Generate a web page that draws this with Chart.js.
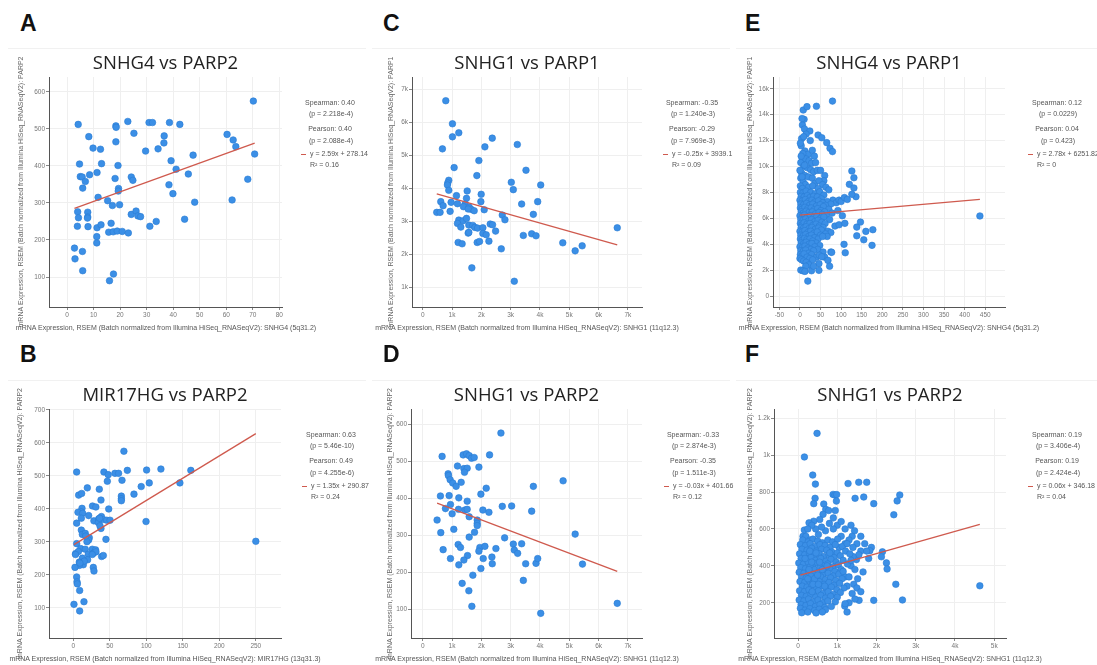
<!DOCTYPE html>
<html><head><meta charset="utf-8">
<script src="https://cdn.jsdelivr.net/npm/chart.js@4.4.1/dist/chart.umd.min.js"></script>
<style>
html,body{margin:0;padding:0;background:#fff;width:1097px;height:665px;overflow:hidden;position:relative;font-family:"Liberation Sans",Arial,sans-serif;}
.abs{position:absolute;white-space:nowrap;}
.letter{font-weight:bold;font-size:23px;line-height:23px;color:#111;}
.stat{font-size:7px;line-height:8px;height:8px;color:#555;}
.ctr{text-align:center;}
.dash{position:absolute;height:1px;width:5px;background:#cf5a4e;}
.card{position:absolute;height:0;border-top:1px solid #f1f1f1;}
canvas{position:absolute;}
</style></head><body>
<script>
// ---------- DATA ----------
const titles = ['SNHG4 vs PARP2','MIR17HG vs PARP2','SNHG1 vs PARP1','SNHG1 vs PARP2','SNHG4 vs PARP1','SNHG1 vs PARP2'];
const xGenes = ['SNHG4 (5q31.2)','MIR17HG (13q31.3)','SNHG1 (11q12.3)','SNHG1 (11q12.3)','SNHG4 (5q31.2)','SNHG1 (11q12.3)'];
const yGenes = ['PARP2','PARP2','PARP1','PARP2','PARP1','PARP2'];
const axisPrefix = 'mRNA Expression, RSEM (Batch normalized from Illumina HiSeq_RNASeqV2): ';

const statsA = ['Spearman: 0.40','(p = 2.218e-4)','Pearson: 0.40','(p = 2.088e-4)','y = 2.59x + 278.14','R² = 0.16'];
const statsB = ['Spearman: 0.63','(p = 5.46e-10)','Pearson: 0.49','(p = 4.255e-6)','y = 1.35x + 290.87','R² = 0.24'];
const statsC = ['Spearman: -0.35','(p = 1.240e-3)','Pearson: -0.29','(p = 7.969e-3)','y = -0.25x + 3939.1','R² = 0.09'];
const statsD = ['Spearman: -0.33','(p = 2.874e-3)','Pearson: -0.35','(p = 1.511e-3)','y = -0.03x + 401.66','R² = 0.12'];
const statsE = ['Spearman: 0.12','(p = 0.0229)','Pearson: 0.04','(p = 0.423)','y = 2.78x + 6251.82','R² = 0'];
const statsF = ['Spearman: 0.19','(p = 3.406e-4)','Pearson: 0.19','(p = 2.424e-4)','y = 0.06x + 346.18','R² = 0.04'];

// tick values shown on each axis
const xTicksA = [0,10,20,30,40,50,60,70,80];
const yTicksA = [100,200,300,400,500,600];
const xTicksB = [0,50,100,150,200,250];
const yTicksB = [100,200,300,400,500,600,700];
const xTicksC = [0,1000,2000,3000,4000,5000,6000,7000];
const yTicksC = [1000,2000,3000,4000,5000,6000,7000];
const xTicksD = [0,1000,2000,3000,4000,5000,6000,7000];
const yTicksD = [100,200,300,400,500,600];
const xTicksE = [-50,0,50,100,150,200,250,300,350,400,450];
const yTicksE = [0,2000,4000,6000,8000,10000,12000,14000,16000];
const xTicksF = [0,1000,2000,3000,4000,5000];
const yTicksF = [200,400,600,800,1000,1200];

const ptsA = [[70.2,575],[4.2,512],[22.9,520],[18.4,508],[18.5,504],[30.9,517],[32.2,517],[38.6,517],[42.5,512],[8.2,479],[25.2,488],[18.4,465],[9.8,448],[12.6,445],[29.6,440],[34.3,446],[36.6,481],[36.5,462],[60.3,485],[62.6,470],[63.6,452],[70.7,432],[47.5,429],[4.7,405],[13,406],[5,371],[5.7,370],[6.9,358],[8.5,376],[11.3,382],[5.9,340],[19.2,401],[18.1,366],[24.2,370],[24.8,361],[19.4,339],[19.3,332],[19.8,295],[17.1,293],[15.3,306],[11.7,315],[39.2,414],[41.1,391],[45.7,378],[38.4,349],[39.9,325],[48.1,302],[62.2,308],[68.1,364],[4.0,276],[4.3,260],[7.8,275],[7.8,262],[7.7,259],[3.9,237],[7.9,236],[11.3,233],[12.8,241],[16.6,245],[24.2,269],[26.0,278],[26.7,265],[27.7,263],[15.7,221],[17.4,222],[18.9,224],[20.8,223],[23.1,219],[31.2,237],[33.6,250],[44.3,256],[11.2,209],[11.2,192],[2.8,178],[5.8,169],[3.0,149],[5.9,117],[17.5,108],[16.0,90]];
const ptsB = [[4.6,512],[41.9,512],[47.8,504],[57,508],[74,517],[100.4,518],[120,521],[161,517],[69.3,575],[46.6,484],[66.7,487],[104,479],[146,479],[93,468],[19.2,464],[35.6,460],[7.3,442],[11.4,447],[83.1,445],[37.9,427],[65.8,439],[65.8,431],[65.8,425],[11.9,402],[10.5,392],[26.3,409],[30.9,406],[28.2,364],[48.5,400],[38.5,377],[34.8,370],[40.7,368],[45.7,366],[50.3,366],[34.2,359],[37.9,341],[36.5,349],[6.4,390],[4.6,357],[12.8,387],[11,372],[21,380],[99.6,362],[11,336],[12.4,323],[16.4,326],[21.9,313],[4.6,295],[21,306],[44.7,308],[18.7,301],[10.1,280],[3.2,265],[16.4,278],[26,278],[30.5,276],[27.4,266],[20.5,263],[12.4,251],[8.2,239],[13.7,231],[8.2,229],[2.3,223],[27.4,223],[28.3,212],[19.6,246],[38.8,256],[41.1,259],[4.6,194],[5.1,179],[5.5,173],[8.7,153],[14.6,119],[0.9,111],[8.7,91],[250,302],[15,242],[9,236],[31,270],[26,262],[17,318],[36,372],[62,508],[7,271],[3,262]];
const ptsC = [[787,6645],[1015,5946],[1015,5551],[1231,5673],[673,5186],[2121,5247],[2372,5511],[3227,5318],[1072,4619],[1916,4832],[1847,4376],[3523,4538],[3022,4173],[3090,3950],[4025,4092],[889,4234],[855,4153],[844,4092],[889,3930],[1152,3768],[1517,3910],[1494,3687],[1995,3809],[1984,3586],[969,3566],[616,3586],[696,3464],[1186,3525],[1448,3515],[1391,3434],[1585,3424],[1653,3353],[1551,3363],[1756,3312],[2098,3342],[935,3292],[479,3262],[593,3262],[3375,3515],[3922,3586],[3774,3201],[2714,3180],[2805,3038],[1231,3028],[1380,3008],[1186,2927],[1494,3079],[1300,2816],[1573,2876],[1710,2866],[1778,2806],[1870,2785],[2052,2795],[2303,2907],[2383,2887],[2486,2694],[1551,2633],[1573,2654],[2052,2623],[2166,2583],[3432,2562],[3717,2613],[3865,2552],[1209,2350],[1345,2309],[1859,2350],[1938,2380],[2258,2390],[2680,2157],[4778,2339],[5200,2096],[5439,2248],[6636,2795],[1676,1580],[3124,1174]];
const ptsD = [[2668,576],[661,513],[1380,517],[1494,520],[1585,515],[1665,508],[1756,510],[2280,517],[1186,487],[1403,480],[1517,481],[1425,470],[1916,484],[867,466],[878,461],[935,450],[1026,441],[1140,432],[1311,443],[3774,432],[4789,447],[2166,427],[604,406],[901,407],[1984,411],[946,383],[775,372],[1231,401],[1003,358],[1220,370],[1437,368],[1517,392],[1517,370],[1585,350],[2052,368],[2258,362],[2714,378],[3033,379],[3717,365],[1859,341],[1859,332],[1859,326],[490,341],[616,307],[1060,316],[1767,308],[1585,295],[5200,303],[2794,293],[1209,275],[1288,267],[1950,267],[2121,270],[1916,257],[2497,264],[3090,276],[3124,260],[3238,251],[3375,277],[696,261],[946,237],[1528,245],[1403,233],[1231,220],[2064,237],[2360,241],[2372,223],[1984,210],[3512,223],[3865,224],[3922,237],[5450,222],[3432,178],[1345,170],[1710,192],[1573,150],[1676,108],[4025,89],[6636,116]];
const ptsE = [[79,15050],[8,14360],[17,14620],[40,14650],[10,13640],[6,13200],[11,12900],[24,12740],[44,12430],[53,12220],[65,11840],[73,11400],[79,11150],[4,12150],[15,12500],[25,12000],[3,11600],[12,11200],[20,10950],[30,11250],[35,10800],[6,10500],[2,10300],[14,10600],[22,10450],[28,10250],[38,10300],[9,10000],[18,9900],[26,9750],[33,9600],[42,9700],[50,9700],[60,9300],[58,8900],[4,9500],[12,9300],[2,9100],[8,8800],[20,9200],[30,9100],[36,8700],[46,8900],[55,8600],[63,8400],[70,8200],[80,7400],[88,7200],[95,7400],[100,7300],[108,7600],[126,9650],[131,9130],[120,8620],[131,8340],[136,7670],[126,7850],[115,7460],
[5,13700],[9,12300],[1,11800],[7,11000],[3,10800],[11,10100],[0,9700],[5,9200],[13,8600],[1,8500],[6,8300],[21,8400],[31,8500],[44,8300],
[1,8000],[7,7950],[15,8100],[26,8000],[37,7900],[48,8050],[58,7800],
[3,7700],[10,7650],[18,7750],[24,7600],[33,7700],[42,7650],[52,7500],[66,7300],[75,7100],
[0,7400],[6,7350],[13,7450],[21,7300],[29,7400],[36,7250],[45,7350],[55,7200],[62,7000],
[2,7100],[9,7050],[16,7150],[23,7000],[31,7100],[40,6950],[49,7050],[57,6900],[70,6700],
[1,6800],[5,6700],[12,6850],[19,6750],[27,6800],[34,6650],[43,6750],[51,6600],[60,6500],[78,6400],[92,6600],[103,6200],
[3,6500],[8,6400],[15,6550],[22,6450],[30,6500],[38,6350],[46,6450],[54,6300],[64,6200],
[0,6200],[6,6150],[11,6250],[18,6100],[25,6200],[33,6050],[41,6150],[50,6000],[58,6100],[72,5900],
[2,5900],[7,5850],[14,5950],[21,5800],[28,5900],[36,5750],[44,5850],[53,5700],[61,5600],
[1,5600],[5,5500],[10,5650],[17,5550],[24,5600],[31,5450],[39,5550],[47,5400],[56,5300],[68,5000],[75,4900],[85,5400],[95,5500],[109,5610],
[3,5300],[9,5250],[15,5350],[22,5200],[29,5300],[37,5150],[45,5250],[52,5100],[62,4800],
[0,5000],[6,4950],[12,5050],[19,4900],[26,5000],[34,4850],[42,4950],[50,4700],[66,4600],
[2,4700],[8,4650],[14,4750],[21,4600],[28,4700],[35,4500],[44,4400],[55,4600],
[1,4400],[5,4300],[11,4450],[17,4350],[24,4400],[31,4250],[39,4100],[48,3900],
[3,4100],[9,4050],[15,4150],[22,4000],[29,4050],[36,3800],[43,3600],[56,3400],[75,3400],
[0,3800],[6,3750],[12,3850],[19,3700],[26,3600],[33,3500],
[2,3500],[8,3450],[14,3550],[21,3300],[28,3200],[40,3000],[47,3150],[60,3000],[68,2750],[72,2300],
[1,3200],[5,3100],[10,3250],[17,3000],[24,2900],[31,2800],[46,2500],[77,3370],[53,3035],
[0,2900],[4,2800],[9,2700],[15,2600],[22,2400],[14,2300],[19,1150],
[2,2000],[7,1950],[12,1900],[28,1950],[46,1980],[33,2300],
[107,3990],[110,3340],[138,5320],[138,4650],[147,5710],[155,4340],[160,4990],[177,5120],[175,3910],[437,6180]];
const ptsF = [[485,1118],[163,990],[375,892],[443,843],[1275,846],[1547,853],[1751,853],[893,787],[940,784],[985,786],[1454,766],[1675,773],[978,751],[435,766],[401,737],[656,735],[707,706],[638,679],[1930,737],[2593,784],[2526,752],[2441,677],[553,651],[400,642],[281,633],[128,560],[162,594],
[2151,476],[2125,449],[2253,416],[2270,383],[2492,300],[2662,215],[1930,213],[1556,213],[1657,367],[1870,500],[1830,482],[1489,434],[4633,292],[1250,150],[1191,182],
[1440,590],[1380,560],[1300,540],[1200,520],[1100,560],[1050,500],[1000,620],[900,600],[800,630],[700,590],[600,610],[520,570],[450,600],[350,620],[250,600],[200,560],[300,540],[1600,480],[1500,520],[1550,460],[1400,450],[1350,400],[1450,380],[1520,330],[1420,300],[1500,280],[1380,250],[1600,260],[1300,200],[1450,220],[1700,520],[1750,480],[1800,440],
[120,540],[260,530],[380,545],[500,535],[620,525],[760,540],[880,530],[1010,545],
[60,515],[190,510],[310,520],[430,505],[560,515],[690,510],[820,500],[950,515],[1130,505],
[100,490],[230,485],[350,495],[470,480],[600,490],[730,485],[860,475],[1000,470],[1210,480],
[40,465],[170,460],[290,470],[410,455],[540,465],[660,450],[790,460],[920,445],[1080,455],[1320,465],
[80,440],[210,435],[330,445],[450,430],[580,440],[710,425],[840,435],[970,420],[1150,430],
[20,415],[140,410],[260,420],[380,405],[500,415],[630,400],[760,410],[890,395],[1030,405],[1260,410],
[70,390],[190,385],[310,395],[430,380],[560,390],[680,375],[810,385],[940,370],[1100,380],
[30,365],[150,360],[270,370],[390,355],[520,365],[640,350],[770,360],[900,345],[1040,355],[1200,340],
[90,340],[210,335],[330,345],[450,330],[580,340],[700,325],[830,335],[960,320],[1120,330],
[50,315],[170,310],[290,320],[410,305],[540,315],[660,300],[790,310],[920,295],[1060,305],[1250,290],
[110,290],[230,285],[350,295],[470,280],[600,290],[720,275],[850,285],[990,270],[1170,280],
[40,265],[160,260],[280,270],[400,255],[520,265],[640,250],[770,260],[900,245],[1080,255],
[90,240],[210,235],[330,245],[450,230],[580,240],[700,225],[830,235],[1000,230],
[30,215],[150,210],[270,220],[390,205],[510,215],[630,200],[760,210],[950,205],[1200,195],
[80,190],[200,185],[320,195],[440,180],[560,190],[680,175],[850,180],
[60,170],[180,160],[300,168],[420,158],[540,165],[700,162],
[94,146],[250,150],[460,145],[620,150],
[300,480],[350,420],[280,380],[420,330],[360,260],[500,350],[550,420],[620,380],[250,330],[180,440],[460,470],[380,300],[520,300],[680,290],[740,400],[810,470],[1150,370],[1300,340],[1350,430],[1250,520],[1400,500],[1600,560],[1350,620],[1100,640],[1200,600],[900,660],[780,700],[950,700]];

const fitA = [[2.8,285.4],[70.7,461.3]];
const fitB = [[0.9,292.1],[250,628.4]];
const fitC = [[479,3819.4],[6636,2280.1]];
const fitD = [[490,387.0],[6636,202.6]];
const fitE = [[0,6251.8],[437,7466.7]];
const fitF = [[60,349.8],[4633,624.2]];

// ---------- LAYOUT ----------
const panels = [
 {letter:'A', i:0, pts:ptsA, fit:fitA, stats:statsA, xt:xTicksA, yt:yTicksA, L:49, R:282, T:77, B:307, xr:[-6.8,81], yr:[19,640], yOff:28, dash:301, lx:20, card:[8,366]},
 {letter:'B', i:1, pts:ptsB, fit:fitB, stats:statsB, xt:xTicksB, yt:yTicksB, L:49, R:281, T:409, B:638, xr:[-33.3,284.5], yr:[9,703], yOff:29, dash:302, lx:20, card:[8,366]},
 {letter:'C', i:2, pts:ptsC, fit:fitC, stats:statsC, xt:xTicksC, yt:yTicksC, L:412, R:642, T:77, B:307, xr:[-365,7480], yr:[394,7364], yOff:21, dash:663, lx:383, card:[372,730]},
 {letter:'D', i:3, pts:ptsD, fit:fitD, stats:statsD, xt:xTicksD, yt:yTicksD, L:411, R:642, T:409, B:638, xr:[-400,7480], yr:[22.4,641], yOff:21, dash:664, lx:383, card:[372,730]},
 {letter:'E', i:4, pts:ptsE, fit:fitE, stats:statsE, xt:xTicksE, yt:yTicksE, L:773, R:1005, T:77, B:307, xr:[-65.5,498], yr:[-849,16911], yOff:23, dash:1028, lx:745, card:[736,1097]},
 {letter:'F', i:5, pts:ptsF, fit:fitF, stats:statsF, xt:xTicksF, yt:yTicksF, L:774, R:1006, T:409, B:638, xr:[-612,5300], yr:[9,1250], yOff:24, dash:1028, lx:745, card:[736,1097]}
];

const YW = 44, PR = 14, XH = 24, TH = 24;
function fmt(v){ if (Math.abs(v) >= 1000) return (Math.round(v/100)/10) + 'k'; return String(v); }
function addDiv(cls, text, x, y){ const d=document.createElement('div'); d.className='abs '+cls; d.textContent=text; d.style.left=x+'px'; d.style.top=y+'px'; document.body.appendChild(d); return d; }
function addCentered(text, cx, cy, w){ const d = addDiv('stat ctr', text, Math.round(cx - w/2), Math.round(cy - 4)); d.style.width = w+'px'; return d; }

const tickFont = {family:'"Liberation Sans", Arial, sans-serif', size:6.5};
panels.forEach(p => {
  const row1 = p.T < 200;
  const cd = document.createElement('div'); cd.className='card';
  cd.style.left = p.card[0]+'px'; cd.style.width=(p.card[1]-p.card[0])+'px'; cd.style.top=(row1?48:380)+'px';
  document.body.appendChild(cd);
  addDiv('letter', p.letter, p.lx, row1 ? 12 : 343);

  const cw = (p.R - p.L) + YW + PR, ch = (p.B - p.T) + TH + XH;
  const c = document.createElement('canvas');
  c.width = cw; c.height = ch;
  c.style.width = cw+'px'; c.style.height = ch+'px';
  c.style.left = (p.L - YW)+'px'; c.style.top = (p.T - TH)+'px';
  document.body.appendChild(c);

  const setTicks = arr => (s => { s.ticks = arr.map(v => ({value: v})); });

  new Chart(c, {
    type: 'scatter',
    data: { datasets: [
      { type:'line', data: p.fit.map(([x,y]) => ({x,y})), borderColor:'#cf5a4e', borderWidth:1.3, pointRadius:0, fill:false, tension:0, order:0 },
      { type:'scatter', data: p.pts.map(([x,y]) => ({x,y})), backgroundColor:'#3b8fe6', borderColor:'#2a7cd3', borderWidth:0.6, pointRadius:3.3, order:1 }
    ]},
    options: {
      responsive:false, animation:false, devicePixelRatio:1,
      layout:{ padding:{left:0, top:0, right:PR, bottom:0} },
      plugins:{
        legend:{display:false}, tooltip:{enabled:false},
        title:{ display:true, text: titles[p.i], fullSize:false, color:'#222',
          font:{family:'"Open Sans", "Noto Sans", sans-serif', size:18.5, weight:'normal', lineHeight:'22px'},
          padding:{top:0, bottom:2} }
      },
      scales:{
        x:{ type:'linear', min:p.xr[0], max:p.xr[1],
          afterBuildTicks: setTicks(p.xt),
          afterFit: s => { s.height = XH; },
          grid:{ color:'#efefef', tickColor:'#888', tickLength:3, drawTicks:true },
          border:{ display:true, color:'#555', width:1 },
          ticks:{ autoSkip:false, maxRotation:0, minRotation:0, padding:1, font:tickFont, color:'#777', callback: v => fmt(v) } },
        y:{ type:'linear', min:p.yr[0], max:p.yr[1],
          afterBuildTicks: setTicks(p.yt),
          afterFit: s => { s.width = YW; },
          grid:{ color:'#efefef', tickColor:'#888', tickLength:3, drawTicks:true },
          border:{ display:true, color:'#555', width:1 },
          ticks:{ autoSkip:false, padding:1, font:tickFont, color:'#777', callback: v => fmt(v) },
          title:{ display:true, text: axisPrefix + yGenes[p.i], color:'#666',
            font:{family:'"Liberation Sans", Arial, sans-serif', size:7, lineHeight:1.2},
            padding:{top: YW - p.yOff - 4.2, bottom:0} } }
      }
    }
  });

  // x-axis title (HTML so it is not squeezed to the axis width)
  addCentered(axisPrefix + xGenes[p.i], (p.L + p.R)/2, p.B + 20.5, 340);

  // stats annotation
  const s = p.stats, d0 = p.dash;
  addCentered(s[0], d0 + 29, p.T + 26, 80);
  addCentered(s[1], d0 + 30, p.T + 37, 80);
  addCentered(s[2], d0 + 29, p.T + 52, 80);
  addCentered(s[3], d0 + 30, p.T + 64, 80);
  const dash = document.createElement('div'); dash.className='dash';
  dash.style.left = d0+'px'; dash.style.top = (p.T + 77)+'px'; document.body.appendChild(dash);
  addDiv('stat', s[4], d0 + 9, p.T + 73);
  addDiv('stat', s[5], d0 + 9, p.T + 84);
});
</script>
</body></html>
